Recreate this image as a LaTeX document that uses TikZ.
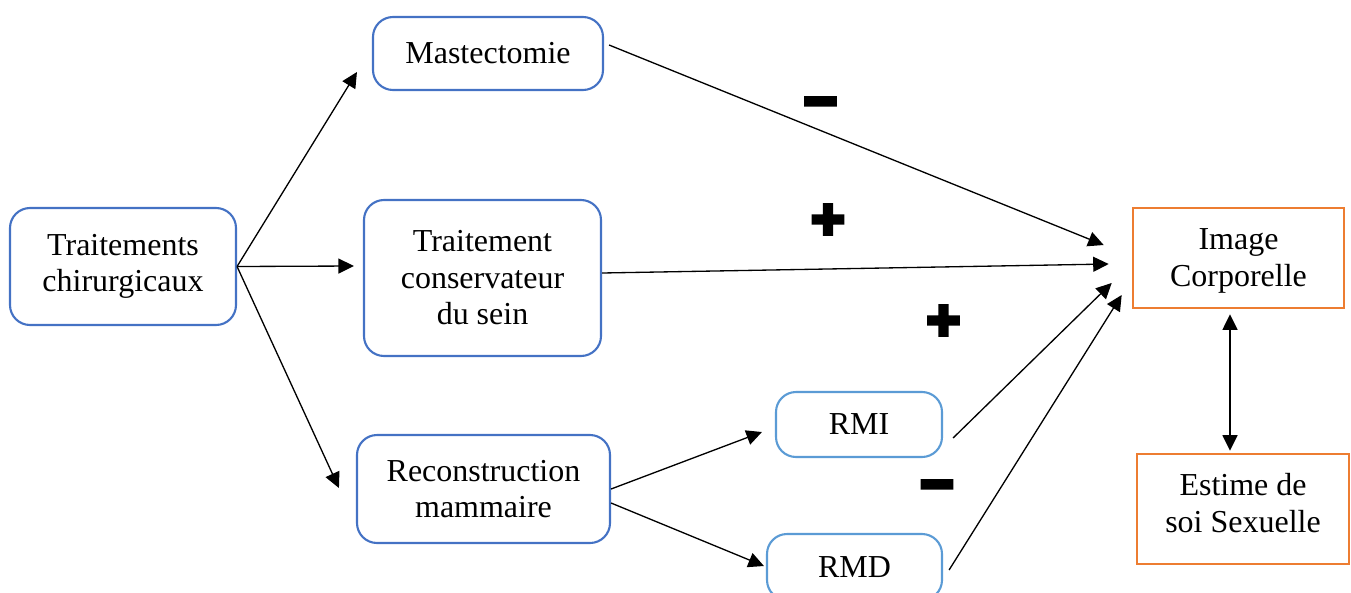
\documentclass[tikz,border=0pt]{standalone}
\usepackage{fontspec}
\setmainfont{Liberation Serif}
\newfontfamily\signfont[FakeBold=12]{DejaVu Sans Bold}
\usetikzlibrary{arrows.meta,calc}
\definecolor{boxblue}{HTML}{4472C4}
\definecolor{lightblue}{HTML}{5B9BD5}
\definecolor{boxorange}{HTML}{ED7D31}
\tikzset{
  rbox/.style={draw=boxblue, line width=1.2pt, rounded corners=0.4cm, align=center, inner sep=0pt,
    font=\fontsize{18.2pt}{20.8pt}\selectfont},
  lbox/.style={rbox, draw=lightblue},
  obox/.style={draw=boxorange, line width=1.5pt, align=center, inner sep=0pt,
    font=\fontsize{18.2pt}{20.8pt}\selectfont},
  arr/.style={line width=0.75pt, -{Triangle[length=0.31cm,width=0.3cm]}},
  darr/.style={line width=0.75pt, {Triangle[length=0.31cm,width=0.3cm]}-{Triangle[length=0.31cm,width=0.3cm]}},
  sign/.style={inner sep=0pt, font=\signfont\fontsize{25pt}{25pt}\selectfont}
}
\begin{document}
\begin{tikzpicture}[x=0.02cm,y=-0.02cm]
\useasboundingbox (0,0) rectangle (1351,592);
\node[rbox, minimum width=226*0.02cm, minimum height=117*0.02cm] (trait) at (123,266.5) {Traitements\\chirurgicaux};
\node[rbox, minimum width=230*0.02cm, minimum height=73*0.02cm] (mast) at (488,53.5) {Mastectomie};
\node[rbox, minimum width=237*0.02cm, minimum height=156*0.02cm] (cons) at (482.5,278) {Traitement\\conservateur\\du sein};
\node[rbox, minimum width=253*0.02cm, minimum height=108*0.02cm] (recon) at (483.5,489) {Reconstruction\\mammaire};
\node[lbox, minimum width=166*0.02cm, minimum height=65*0.02cm] (rmi) at (859,424.5) {RMI};
\node[lbox, minimum width=175*0.02cm, minimum height=66*0.02cm] (rmd) at (854.5,567) {RMD};
\node[obox, minimum width=211*0.02cm, minimum height=100*0.02cm] (img) at (1238.5,258) {};
\node[font=\fontsize{18.2pt}{20.8pt}\selectfont, align=center, inner sep=0pt] (imgt) at (1238.5,261) {Image\\Corporelle};
\node[obox, minimum width=212*0.02cm, minimum height=110*0.02cm] (est) at (1243,509) {};
\node[font=\fontsize{18.2pt}{20.8pt}\selectfont, align=center, inner sep=0pt] (estt) at (1243,503) {Estime de\\soi Sexuelle};

\draw[arr] (trait.east) -- ($(mast.west)+(-15,18.5)$);
\draw[arr] (trait.east) -- ($(cons.west)+(-9,-12)$);
\draw[arr] (trait.east) -- ($(recon.west)+(-17,-1)$);
\draw[arr] (recon.east) -- ($(rmi.west)+(-13,7.5)$);
\draw[arr] ($(recon.east)+(0,14)$) -- ($(rmd.west)+(-2,-1)$);
\draw[arr] ($(mast.east)+(5,-8.5)$) -- ($(img.west)+(-28,-13)$);
\draw[arr] ($(cons.east)+(0,-5)$) -- ($(img.west)+(-23,6)$);
\draw[arr] ($(rmi.east)+(10,13.5)$) -- ($(img.west)+(-20,25)$);
\draw[arr] ($(rmd.east)+(6,3)$) -- ($(img.west)+(-10,37)$);
\draw[darr] ($(img.south)+(-8.5,5)$) -- ($(est.north)+(-13,-2)$);

\node[sign] (m1) at (820.5,107) {−};
\node[sign] (p1) at (828,219.5) {+};
\node[sign] (p2) at (943.5,320.5) {+};
\node[sign] (m2) at (937,490) {−};
\end{tikzpicture}
\end{document}
